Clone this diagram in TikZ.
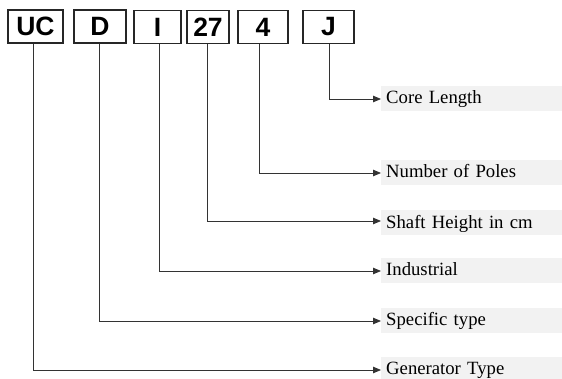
\documentclass[tikz,border=0pt]{standalone}
\usepackage{fontspec}
\setmainfont{Liberation Serif}
\newfontfamily\boxfont{Liberation Sans}
\usetikzlibrary{arrows.meta}
\definecolor{labgray}{HTML}{F2F2F2}
\begin{document}
\begin{tikzpicture}[x=1pt,y=-1pt,
  codebox/.style={draw=black!85, line width=1.2pt, minimum height=33pt, inner sep=0pt,
    font=\boxfont\bfseries\fontsize{26.5}{28}\selectfont},
  lab/.style={fill=labgray, anchor=west, minimum width=181pt, minimum height=25pt,
    inner sep=0pt, inner xsep=5pt, text width=171pt, align=left,
    text height=12.5pt, text depth=2pt, font=\fontsize{18.7}{22}\selectfont},
  conn/.style={draw=black!80, line width=0.8pt, -{Triangle[length=8pt,width=6.5pt]}}]
\useasboundingbox (0,0) rectangle (562,379);
% code boxes
\node[codebox, minimum width=55pt] (UC) at (35.5,26.5) {UC};
\node[codebox, minimum width=52pt] (D) at (100,26.5) {D};
\node[codebox, minimum width=47pt] (I) at (157.5,27) {I};
\node[codebox, minimum width=42pt] (S) at (208,27) {27};
\node[codebox, minimum width=50pt] (P) at (263,27) {4};
\node[codebox, minimum width=51pt] (J) at (328.5,27) {J};
% labels
\node[lab] (lCore) at (381,98.5) {Core Length};
\node[lab] (lPoles) at (381,172.5) {Number of Poles};
\node[lab] (lShaft) at (381,223) {Shaft Height in cm};
\node[lab] (lInd) at (381,270.5) {Industrial};
\node[lab] (lSpec) at (381,320) {Specific type};
\node[lab] (lGen) at (381,369) {Generator Type};
% connectors
\draw[conn] ([xshift=0.5pt]J.south) |- ([yshift=-0.5pt]lCore.west);
\draw[conn] ([xshift=-4pt]P.south) |- ([yshift=-0.5pt]lPoles.west);
\draw[conn] ([xshift=-1pt]S.south) |- ([yshift=2pt]lShaft.west);
\draw[conn] ([xshift=1.5pt]I.south) |- ([yshift=-0.5pt]lInd.west);
\draw[conn] ([xshift=-1pt]D.south) |- ([yshift=-1pt]lSpec.west);
\draw[conn] ([xshift=-2.5pt]UC.south) |- ([yshift=-1pt]lGen.west);
\end{tikzpicture}
\end{document}
